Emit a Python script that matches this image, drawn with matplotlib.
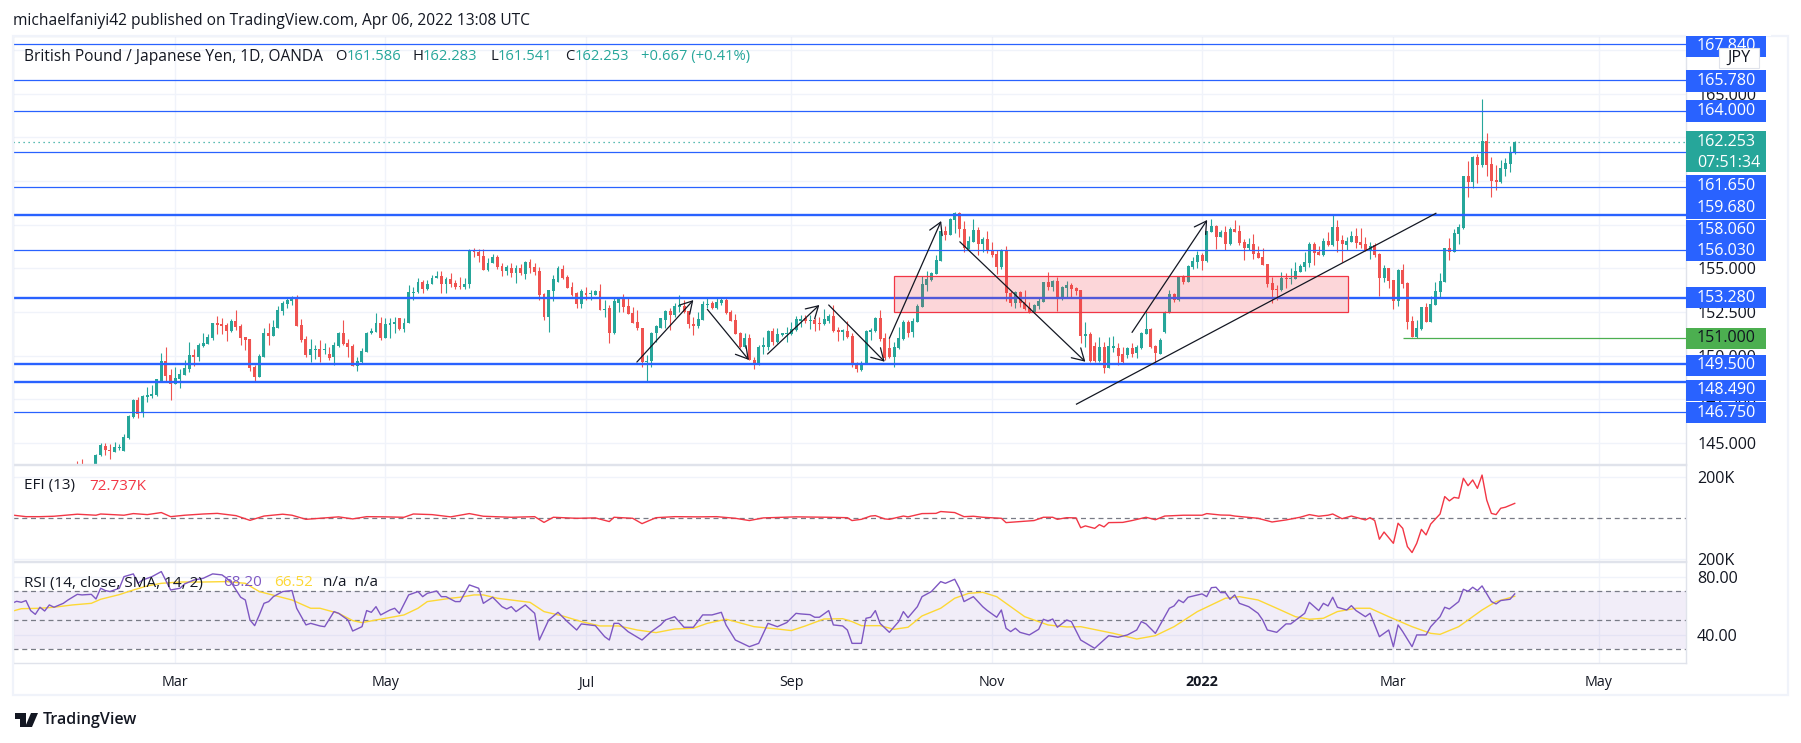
import numpy as np
import matplotlib
matplotlib.use("Agg")
import matplotlib.pyplot as plt
from matplotlib.patches import Rectangle, Polygon

W, H = 1801, 743
UP = "#26a69a"
DOWN = "#ef5350"
BLUE = "#2962ff"
TEXT = "#131722"
GRID = "#f0f3fa"
EDGE = "#e0e3eb"
AXIS_SIZE = 11.6

plt.rcParams["font.family"] = ["Open Sans", "DejaVu Sans"]

# daily candles of GBP/JPY
opens = [
    143.6, 143.7, 143.2, 143.3, 143.78, 144.3, 144.81, 144.58, 144.49, 144.68, 144.55, 145.29,
    146.49, 147.45, 146.72, 147.62, 147.66, 147.74, 148.52, 149.69, 148.88, 148.39,
    148.65, 148.88, 149.23, 150.03, 149.92, 150.55, 150.66, 151.0, 151.86, 151.81,
    151.75, 151.41, 151.98, 151.69, 151.06, 150.95, 149.34, 148.77, 149.92, 151.29,
    151.12, 151.58, 152.55, 152.95, 153.12, 153.3, 151.75, 150.95, 150.03, 150.32,
    150.37, 150.31, 150.09, 149.9, 150.56, 151.31, 150.75, 150.56, 149.42, 149.65,
    150.22, 151.27, 151.37, 151.88, 151.02, 151.75, 151.79, 152.13, 151.52, 151.84,
    153.56, 153.62, 154.19, 153.79, 154.08, 154.42, 154.57, 154.13, 154.38, 154.17,
    153.98, 153.94, 154.13, 156.01, 155.95, 155.72, 154.9, 155.28, 155.66, 155.15,
    154.86, 155.03, 154.71, 155.03, 154.67, 155.36, 155.09, 154.84, 153.52, 152.23,
    153.71, 154.23, 154.96, 154.48, 153.91, 153.6, 152.95, 153.6, 153.52, 153.47,
    153.71, 152.61, 152.7, 151.27, 153.03, 153.31, 152.84, 152.45, 151.94, 151.59,
    149.65, 149.69, 151.27, 151.56, 152.03, 152.55, 152.32, 152.8, 152.84, 152.55,
    151.81, 151.69,
    152.03, 152.91, 152.99, 152.7, 152.99, 153.18, 152.47,
    152.04, 151.31, 150.51, 150.99, 149.75, 149.56, 150.51, 150.51, 151.41, 150.76,
    151.18, 151.24, 151.22, 151.47, 151.98, 152.14, 152.0, 152.04, 151.85, 151.81,
    152.0, 152.27, 151.47, 151.37, 151.41, 151.14, 149.46, 149.17, 149.56, 151.37,
    151.41, 152.17, 150.99, 150.42, 149.9, 150.45, 150.95, 151.91, 151.33,
    151.94, 152.8, 154.04, 154.33, 154.67, 155.43, 157.13, 156.91, 157.76, 158.15,
    157.23, 156.1, 156.5, 157.19, 156.39, 156.68, 156.05, 155.82, 155.05, 156.05,
    153.56, 152.99, 153.62, 153.05, 152.7, 152.46, 152.84, 153.09, 154.2, 153.95,
    154.27, 153.22, 153.85, 154.04, 153.85,
    153.76, 151.14, 151.22, 150.55, 149.71, 150.51, 149.27, 150.42, 150.42, 150.09,
    150.03, 150.42, 150.13, 150.42, 151.22, 151.5, 150.55, 150.09, 151.37, 152.42,
    153.53, 153.18, 154.52, 154.2, 155.09, 155.38, 155.76, 155.42, 157.1, 157.42,
    156.81, 157.06, 156.39, 157.25, 157.14, 156.49, 156.16, 156.39, 155.86, 155.63,
    155.25, 154.14, 153.8, 153.76, 154.43, 154.37, 154.39, 154.81, 155.06, 155.32,
    156.39, 155.92, 155.74, 156.57, 156.32,
    157.35, 156.62, 156.32, 156.53, 156.85, 156.51, 156.38, 156.01, 156.36, 155.82,
    154.47, 155.02, 154.33, 153.15, 154.91, 154.14, 151.98, 151.08, 151.52, 152.77,
    151.94, 152.9, 153.66, 154.24, 156.15, 155.92, 156.97, 157.29, 160.29, 159.95,
    161.38, 160.92, 162.3, 160.98, 160.06, 159.95, 160.69, 160.98, 161.586,
]
highs = [
    143.99, 144.1, 143.7, 143.75, 144.35, 144.97, 145.0, 144.91, 145.06, 144.93, 145.5, 146.59,
    147.5, 147.6, 147.75, 148.2, 148.31, 148.65, 150.14, 150.49, 149.21, 149.34,
    149.21, 149.74, 150.77, 150.37, 150.72, 151.29, 151.23, 151.86, 152.26, 152.15,
    151.86, 152.09, 152.61, 151.81, 151.06, 150.95, 149.46, 150.09, 151.58, 151.86,
    152.04, 152.84, 153.12, 153.35, 153.41, 153.47, 152.09, 151.12, 150.95, 150.6,
    150.89, 150.7, 150.51, 150.79, 151.35, 152.03, 150.93, 150.64, 149.93, 150.41,
    151.33, 151.56, 152.42, 152.23, 152.13, 152.13, 152.23, 152.13, 152.13, 154.04,
    153.94, 154.42, 154.33, 154.33, 154.61, 154.84, 154.84, 154.52, 154.71, 154.33,
    154.52, 154.42, 156.08, 156.14, 156.08, 156.08, 155.57, 155.82, 155.76, 155.28,
    155.19, 155.28, 155.19, 155.22, 155.42, 155.51, 155.28, 155.09, 153.56, 153.75,
    154.61, 155.15, 155.17, 154.61, 154.23, 153.66, 153.79, 153.94, 153.75, 153.75,
    154.08, 153.18, 152.89, 153.31, 153.37, 153.52, 153.37, 152.8, 152.61, 151.59,
    150.03, 151.37, 151.75, 152.17, 152.61, 152.7, 152.99, 153.47, 153.18, 152.55,
    152.23, 152.51,
    153.14, 153.28, 153.14, 153.33, 153.33, 153.28, 152.61,
    152.38, 151.35, 151.31, 151.22, 149.9, 150.61, 151.08, 151.47, 151.56, 151.56,
    151.31, 151.66, 151.94, 152.27, 152.33, 152.33, 152.31, 152.14, 152.23, 152.67,
    152.38, 152.9, 151.66, 151.52, 151.98, 151.27, 149.65, 149.71, 151.47, 151.56,
    152.23, 152.61, 151.27, 150.99, 150.8, 151.66, 152.04, 152.04, 152.14,
    152.93, 154.56, 154.84, 154.8, 155.76, 157.13, 157.42, 157.9, 158.22, 158.22,
    157.71, 156.85, 157.8, 157.34, 156.77, 157.13, 156.5, 156.05, 156.1, 156.28,
    153.72, 153.68, 153.68, 153.75, 153.05, 152.95, 153.37, 154.23, 154.77, 154.33,
    154.52, 153.98, 154.27, 154.17, 153.95,
    153.76, 151.91, 151.37, 150.8, 151.08, 150.8, 151.08, 151.14, 150.7, 150.47,
    150.51, 150.74, 150.61, 151.37, 152.61, 151.56, 150.61, 150.99, 152.57, 153.76,
    153.57, 154.52, 154.62, 155.19, 155.67, 156.0, 155.9, 157.14, 157.83, 157.48,
    157.2, 157.44, 157.37, 157.77, 157.48, 156.66, 156.74, 156.97, 156.28, 156.14,
    155.25, 154.52, 154.04, 154.77, 154.71, 155.0, 155.34, 155.25, 155.92, 156.49,
    156.49, 156.28, 156.74, 157.1, 158.09,
    157.77, 156.91, 156.81, 157.16, 157.29, 157.29, 156.81, 156.53, 156.43, 155.86,
    155.19, 155.02, 154.33, 154.94, 155.25, 154.24, 152.27, 152.04, 152.8, 153.0,
    153.42, 154.22, 154.75, 156.15, 156.72, 157.24, 157.54, 160.29, 161.15, 161.44,
    161.55, 164.68, 162.76, 161.38, 160.92, 161.21, 161.32, 162.01, 162.283,
]
lows = [
    143.3, 143.4, 143.1, 143.2, 143.7, 144.25, 144.3, 144.07, 144.49, 144.58, 144.55, 145.25,
    146.4, 146.43, 146.5, 147.34, 147.58, 147.68, 148.5, 148.46, 147.45, 148.39,
    148.14, 148.88, 149.06, 149.4, 149.69, 150.51, 150.66, 150.89, 151.23, 151.23,
    150.83, 151.35, 151.46, 150.6, 150.32, 149.11, 148.54, 148.77, 149.92, 150.6,
    151.12, 151.58, 152.32, 152.72, 152.9, 151.69, 150.77, 149.92, 149.63, 149.8,
    149.65, 150.12, 149.74, 149.46, 150.51, 150.6, 149.93, 149.42, 149.13, 149.55,
    150.22, 151.21, 151.37, 150.89, 151.02, 151.02, 151.27, 151.46, 151.33, 151.84,
    153.18, 153.56, 153.6, 153.75, 154.08, 154.42, 153.6, 153.6, 153.94, 153.81,
    153.81, 153.81, 153.85, 155.66, 155.38, 154.9, 154.84, 155.28, 154.99, 154.56,
    154.61, 154.52, 154.17, 154.61, 154.36, 154.71, 154.61, 153.18, 152.03, 151.37,
    153.12, 154.19, 154.36, 153.85, 153.43, 152.7, 152.7, 153.18, 153.18, 153.47,
    152.61, 152.23, 150.74, 151.23, 152.47, 152.51, 152.38, 151.84, 151.46, 149.36,
    148.5, 149.36, 150.79, 151.56, 151.56, 151.46, 152.23, 152.51, 152.45, 151.56,
    151.17, 151.56,
    152.03, 152.7, 152.67, 152.65, 152.9, 152.36, 151.98,
    151.24, 150.42, 150.42, 149.75, 149.23, 149.46, 150.09, 150.32, 150.61, 150.7,
    151.12, 150.8, 151.18, 151.41, 151.66, 151.89, 151.5, 151.43, 151.47, 151.75,
    151.89, 151.33, 150.86, 150.89, 150.99, 149.37, 149.08, 149.14, 149.52, 150.89,
    151.37, 150.85, 149.75, 149.84, 149.37, 150.4, 150.89, 151.05, 151.08,
    151.94, 152.8, 153.72, 154.27, 154.67, 155.43, 156.62, 156.91, 157.0, 156.81,
    155.95, 156.1, 156.5, 155.76, 155.95, 155.85, 155.63, 154.67, 154.99, 153.14,
    152.84, 152.7, 152.76, 152.61, 152.42, 152.42, 152.65, 153.09, 153.75, 153.72,
    152.57, 153.18, 153.33, 153.37, 153.47,
    150.7, 150.51, 149.65, 149.65, 149.65, 149.02, 149.27, 150.22, 149.46, 149.56,
    149.84, 149.9, 149.84, 150.38, 151.22, 150.42, 149.59, 150.09, 151.31, 152.42,
    153.09, 153.15, 154.08, 154.2, 154.96, 155.0, 154.9, 155.38, 157.1, 156.11,
    156.81, 156.05, 156.34, 157.1, 156.34, 155.48, 156.05, 155.53, 155.59, 155.21,
    153.95, 152.99, 153.18, 153.72, 153.85, 154.1, 154.39, 154.81, 154.87, 155.09,
    155.19, 155.74, 155.7, 156.28, 156.28,
    155.92, 155.38, 156.05, 156.53, 156.15, 156.15, 156.01, 155.54, 155.67, 153.43,
    154.24, 153.89, 152.69, 152.86, 153.89, 151.52, 151.08, 151.0, 151.47, 151.94,
    151.94, 152.9, 153.28, 154.24, 155.48, 155.92, 156.39, 157.25, 159.11, 159.62,
    159.91, 160.83, 160.29, 159.11, 159.49, 159.89, 160.29, 160.52, 161.541,
]
closes = [
    143.4, 143.5, 143.6, 143.7, 144.3, 144.85, 144.58, 144.53, 144.74, 144.74, 145.35, 146.55,
    147.45, 146.68, 147.68, 147.74, 147.8, 148.64, 149.69, 148.83, 148.39, 148.71,
    148.92, 149.29, 150.03, 149.92, 150.6, 150.72, 151.06, 151.86, 151.75, 151.69,
    151.41, 151.98, 151.63, 151.0, 150.89, 149.29, 148.77, 149.97, 151.29, 151.12,
    151.63, 152.61, 153.01, 153.18, 153.3, 151.69, 150.89, 150.03, 150.37, 150.37,
    149.93, 150.37, 149.84, 150.6, 151.31, 150.64, 150.51, 149.42, 149.7, 150.26,
    151.27, 151.4, 151.88, 150.98, 151.79, 151.88, 151.92, 151.52, 151.84, 153.62,
    153.62, 154.19, 153.79, 154.13, 154.42, 154.57, 154.13, 154.38, 154.13, 153.94,
    153.94, 154.13, 156.01, 155.95, 155.7, 154.9, 155.28, 155.66, 155.05, 154.86,
    155.05, 154.71, 155.03, 154.71, 155.36, 155.03, 154.8, 153.47, 152.23, 153.75,
    154.38, 155.03, 154.42, 153.85, 153.5, 152.95, 153.71, 153.47, 153.6, 153.71,
    152.61, 152.65, 151.27, 153.12, 153.31, 152.8, 152.38, 151.84, 151.56, 149.65,
    149.7, 151.31, 151.69, 152.13, 152.55, 152.32, 152.84, 152.89, 152.51, 151.79,
    151.69, 152.07,
    152.95, 152.95, 152.7, 153.07, 153.18, 152.42, 151.98,
    151.24, 150.51, 150.99, 149.75, 149.46, 150.51, 150.61, 151.41, 150.76, 151.22,
    151.27, 151.31, 151.5, 152.1, 152.08, 152.0, 152.04, 151.81, 151.81, 152.1,
    152.27, 151.41, 151.37, 151.47, 151.08, 149.46, 149.21, 149.56, 151.41, 151.47,
    152.17, 150.93, 149.84, 149.9, 150.47, 150.99, 151.94, 151.27, 152.0,
    152.86, 154.1, 154.38, 154.73, 155.47, 157.13, 156.91, 157.8, 158.19, 157.23,
    156.14, 156.56, 157.19, 156.39, 156.68, 156.05, 155.76, 155.09, 156.05, 153.56,
    152.99, 153.62, 152.99, 152.67, 152.46, 152.9, 153.12, 154.2, 153.91, 154.27,
    153.28, 153.91, 154.04, 153.79, 153.72,
    151.14, 151.24, 149.71, 149.71, 150.51, 149.27, 150.55, 150.55, 150.0, 149.65,
    150.42, 150.07, 150.51, 151.31, 151.5, 150.51, 150.13, 150.89, 152.42, 153.53,
    153.18, 154.52, 154.23, 155.15, 155.42, 155.76, 155.42, 157.14, 157.42, 156.81,
    157.06, 156.39, 157.25, 157.1, 156.47, 156.18, 156.41, 155.82, 155.59, 155.21,
    154.1, 153.76, 153.76, 154.43, 154.37, 154.43, 154.83, 155.13, 155.36, 156.39,
    155.9, 155.74, 156.57, 156.32, 157.37,
    156.57, 156.38, 156.57, 156.85, 156.47, 156.32, 156.01, 156.3, 155.76, 154.47,
    155.02, 154.29, 153.15, 154.91, 154.1, 151.94, 151.08, 151.56, 152.77, 151.94,
    152.96, 153.7, 154.27, 156.15, 155.96, 157.0, 157.37, 160.29, 159.95, 161.38,
    160.92, 162.3, 160.92, 160.0, 159.95, 160.75, 161.04, 161.65, 162.253,
]

# horizontal levels drawn on the chart
thin_levels = [167.84, 165.78, 164.0, 161.65, 159.68, 156.03, 146.75]
thick_levels = [158.06, 153.28, 149.5, 148.49]
green_level = 151.0
last_price = 162.253
price_ticks = [145.0, 147.5, 150.0, 152.5, 155.0, 157.5, 160.0, 162.5, 165.0, 167.5]
hidden_ticks = [157.5, 160.0, 162.5, 167.5]

# price tags on the axis: text and the height they ended up at after de-overlapping
tag_texts = ["167.840", "165.780", "164.000", "161.650", "159.680", "158.060",
             "156.030", "153.280", "149.500", "148.490", "146.750"]
tag_rows = [46, 81, 111, 186, 208, 230, 251, 297.5, 365, 390, 413]

# arrows and trend line in bars / price
arrows = [
    (119.9, 149.63, 132.0, 153.18),
    (135.0, 152.65, 143.9, 149.75),
    (147.9, 150.09, 159.0, 152.9),
    (161.0, 152.9, 173.0, 149.65),
    (174.0, 150.99, 185.1, 157.71),
    (189.1, 156.52, 216.0, 149.65),
    (226.0, 151.33, 242.1, 157.77),
]
trend_bars = [214.1, 291.1]
trend_prices = [147.22, 158.15]
zone_bars = [175.1, 272.2]
zone_prices = [152.48, 154.54]
green_start = 284.1

month_bars = [21, 66, 109, 153, 196, 241, 282, 326]
month_names = ["Mar", "May", "Jul", "Sep", "Nov", "2022", "Mar", "May"]

efi_bars = [
    -14, -11, -8, -5, 0, 4, 5, 10, 12, 15, 18, 20, 23, 27, 30, 34, 37, 40, 44, 46,
    49, 52, 56, 59, 62, 66, 70, 72, 76, 80, 84, 87, 93, 98, 100, 102, 107, 111, 114, 115,
    119, 121, 124, 128, 133, 137, 141, 144, 147, 154, 161, 165, 166, 168, 170, 171, 173, 174, 177, 178,
    181, 184, 185, 188, 190, 192, 194, 198, 199, 202, 205, 207, 209, 210, 212, 214, 215, 216, 218, 219,
    220, 221, 224, 226, 229, 231, 233, 237, 241, 242, 245, 247, 248, 253, 256, 259, 262, 264, 266, 268,
    269, 271, 273, 276, 277, 278, 279, 280, 282, 283, 284, 285, 286, 287, 288, 289, 290, 292, 293, 294,
    295, 296, 297, 298, 299, 300, 301, 302, 303, 304, 305, 306, 308,
]
efi_values = [
    16, 8, 8, 10, 20, 15, 21, 15, 23, 18, 28, 8, 15, 21, 24, 13, -10, 11, 20, 15,
    -5, 0, 7, -3, 8, 7, 5, 21, 18, 7, 23, 10, 5, 8, -20, 5, 0, 2, -16, 5,
    0, -26, 3, 8, 7, 8, 0, -11, 2, 7, 5, 3, -11, -5, 11, 13, -3, -5, 11, 7,
    23, 24, 33, 28, 8, 10, 5, 0, -21, -16, -11, 5, 5, -5, 3, 2, -46, -37, -49, -31,
    -42, -21, -20, -11, 5, -7, 11, 15, 15, 23, 16, 15, 11, 0, -18, -8, 5, 18, 10, 15,
    21, -2, 11, -8, 3, -11, -102, -67, -122, -24, -49, -138, -167, -122, -54, -81, -28, 21, 106, 85,
    102, 98, 195, 159, 187, 146, 211, 89, 24, 18, 49, 54, 72.737,
]

rsi_bars = [
    -14, -13, -12, -11, -10, -9, -8, -7, -6, -5, -3, -2, 0, 1, 3, 4, 5, 6, 7, 9,
    10, 12, 13, 14, 16, 18, 20, 22, 23, 25, 27, 29, 31, 32, 33, 35, 36, 37, 38, 39,
    40, 41, 42, 44, 46, 47, 48, 49, 50, 52, 53, 55, 56, 58, 59, 61, 62, 63, 64, 65,
    67, 68, 69, 71, 73, 74, 75, 77, 78, 79, 81, 82, 84, 86, 87, 89, 91, 92, 93, 94,
    96, 98, 99, 101, 103, 105, 107, 108, 111, 113, 114, 115, 116, 118, 121, 123, 125, 126, 128, 130,
    132, 134, 136, 138, 139, 141, 144, 146, 148, 150, 152, 154,
    155, 157, 158, 159, 161, 162, 164, 165, 166, 168, 169, 170, 171, 172, 174, 176, 177, 178, 180, 181,
    183, 185, 186, 188, 189, 190, 192, 194, 195, 197, 198, 199, 200, 201, 202, 204, 206, 207, 208, 209,
    210, 212, 213, 215, 218, 221, 223, 225, 227, 228, 229, 231, 233, 234, 235, 236, 237, 238, 241, 242,
    243, 244, 245, 246, 247, 248, 249, 251, 253, 254, 255, 257, 259, 260, 263, 264, 266, 267, 268, 269,
    270, 272, 273, 274, 276, 277, 279, 281, 282, 283, 284, 286, 287, 289, 290, 292, 293, 294, 296, 297,
    298, 299, 300, 301, 303, 304, 305, 307, 308,
]
rsi_values = [
    61.7, 63.1, 62.4, 63.6, 56.7, 54.1, 59, 56.4, 60.6, 59, 61.7, 64, 67.9, 67.5, 67.9, 64.7, 72.1, 70.5, 69.8, 72.1,
    80.1, 82, 75.5, 77.8, 80.1, 83.6, 70.9, 72.1, 75.1, 77.8, 79, 82, 81.3, 79, 76, 65.9, 64, 50.2, 46.3, 53.7,
    61.7, 62.9, 66.3, 69.8, 70.5, 58.3, 52.5, 46.8, 47.9, 46.1, 45.6, 56, 54.8, 50.2, 42.6, 45.6, 56.7, 55.5, 59.4, 53.7,
    57.1, 58.3, 54.8, 67.5, 69.8, 66.3, 68.6, 70.2, 66.3, 66.3, 62.9, 62.9, 74.4, 72.1, 61.7, 65.9, 59.4, 57.8, 59.4, 56,
    60.6, 54.8, 36.4, 50.2, 55.5, 49.1, 43.3, 47.5, 46.3, 38.7, 36.4, 47.9, 47.9, 42.2, 36.4, 42.2, 46.8, 50.2, 52.5, 45.2,
    45.2, 53.7, 53.7, 55.5, 46.8, 36.4, 31.8, 34.1, 47.9, 45.6, 48.4, 54.8,
    54.4, 53.9, 52.1, 52.1, 56.7, 46.8, 46.1, 43.3, 34.1, 34.1, 51.4, 52.1, 56.7, 47.9, 41.7, 49.1, 56, 51.8, 59.4, 66.3,
    69.8, 76.7, 75.5, 78.3, 72.1, 62.9, 66.3, 59.4, 56.7, 52.1, 57.1, 44.5, 42.2, 44.5, 41.7, 39.9, 43.8, 50.7, 49.5, 50.9,
    45.2, 50.2, 49.1, 36.4, 30.7, 39.4, 38.3, 39.9, 43.3, 49.1, 47.5, 41, 52.5, 58.3, 59.9, 64, 62.2, 65.9, 68.2, 66.3,
    72.5, 72.8, 69.1, 69.1, 64.5, 67.5, 61.7, 59.4, 54.8, 50.2, 43.3, 41.7, 47.5, 47.5, 54.8, 62.4, 56.7, 61.7, 59.9, 65.9,
    59, 57.1, 60.1, 56.7, 52.5, 54.8, 38.7, 43.3, 31.8, 46.8, 42.2, 31.8, 39.9, 39.9, 45.6, 52.5, 59, 57.8, 62.9, 71.4,
    70, 72.8, 70.5, 73.7, 62.9, 61.3, 63.6, 64.5, 68.2,
]
rsi_ma_bars = [
    -14, -12, -8, -5, -1, 3, 5, 9, 12, 15, 18, 22, 27, 32, 36, 39, 46, 50, 52, 56,
    59, 61, 64, 68, 70, 73, 75, 80, 82, 85, 87, 90, 93, 97, 100, 104, 108, 112, 116, 120,
    124, 128, 132, 135, 139, 141, 145, 150, 153, 156, 160, 164, 166, 168, 172, 175, 178, 181, 185, 188,
    191, 194, 197, 200, 203, 208, 212, 215, 222, 227, 231, 235, 240, 246, 249, 253, 257, 261, 264, 267,
    270, 274, 277, 281, 286, 290, 292, 296, 301, 304, 308,
]
rsi_ma_values = [
    56.2, 58, 58.3, 59, 60.6, 61.7, 64.5, 67.7, 70.9, 73.7, 75.5, 76.4, 76.4, 76.7, 75.5, 69.8, 64, 58.3, 58.3, 54.8,
    49.8, 48.4, 50.2, 52.5, 53.7, 58.3, 62.9, 65.2, 65.9, 67.5, 67.5, 65.2, 64, 62.4, 56, 53, 49.1, 46.1, 46.1, 43.3,
    41.5, 44, 44.5, 47.9, 50.7, 49.1, 45.6, 44, 42.9, 46.1, 50.9, 51.1, 49.1, 46.3, 46.3, 43.8, 45.2, 53, 58.3, 65.2,
    68.6, 69.3, 66.3, 59.4, 52.5, 46.8, 45.4, 45.6, 41, 37.1, 39.4, 45.6, 56, 65.2, 66.3, 64, 58.3, 52.5, 50.7, 51.4,
    56, 58.3, 58.3, 52.5, 45.6, 41, 40.3, 45.6, 57.1, 62.9, 66.52,
]


def fx(px):
    return px / W


def fy(py):
    return 1 - py / H


def add_pane(top, bottom):
    ax = fig.add_axes([fx(13), fy(bottom), (1686 - 13) / W, (bottom - top) / H])
    ax.set_xlim(-13.78, 344.7)
    ax.set_xticks(month_bars)
    ax.grid(True, color=GRID, lw=1.0)
    ax.set_axisbelow(True)
    ax.yaxis.tick_right()
    ax.tick_params(length=0, labelsize=AXIS_SIZE, labelcolor=TEXT, pad=8)
    ax.tick_params(axis="x", labelbottom=False)
    for side in ax.spines:
        ax.spines[side].set_color(EDGE)
        ax.spines[side].set_linewidth(1.0)
    return ax


fig = plt.figure(figsize=(W / 100, H / 100), dpi=100, facecolor="white")

# outer frame of the chart widget
fig.add_artist(Rectangle((fx(12.5), fy(695)), (1788 - 12.5) / W, (695 - 36) / H, transform=fig.transFigure,
                         fill=False, ec=GRID, lw=1.6))

main = add_pane(36, 464)
efi = add_pane(465, 561)
rsi = add_pane(562, 663)

main.set_ylim(143.79, 168.31)
main.set_yticks(price_ticks)
main.set_yticklabels(["" if p in hidden_ticks else f"{p:.3f}" for p in price_ticks])

bars = np.arange(len(closes))
opens = np.array(opens)
closes = np.array(closes)
rising = closes >= opens
colors = np.where(rising, UP, DOWN)
main.vlines(bars, lows, highs, colors=colors, lw=0.8, zorder=2)
body_low = np.minimum(opens, closes)
body_h = np.maximum(np.abs(closes - opens), 0.06)
main.bar(bars, body_h, bottom=body_low, width=0.64, color=colors, lw=0, zorder=2)

main.axhline(last_price, color=UP, lw=0.9, ls=(0, (1, 3)), zorder=3)
for lv in thin_levels:
    main.axhline(lv, color=BLUE, lw=0.9, zorder=3)
for lv in thick_levels:
    main.axhline(lv, color=BLUE, lw=1.7, zorder=3)
main.hlines(green_level, green_start, 344.7, color="#4caf50", lw=0.9, zorder=3)

main.add_patch(Rectangle((zone_bars[0], zone_prices[0]), zone_bars[1] - zone_bars[0], zone_prices[1] - zone_prices[0],
                         fc=(0.949, 0.212, 0.271, 0.2), ec="#f23645", lw=0.9, zorder=4))
main.plot(trend_bars, trend_prices, color="#131722", lw=0.9, zorder=5)
for x0, y0, x1, y1 in arrows:
    main.annotate("", xy=(x1, y1), xytext=(x0, y0), zorder=5,
                  arrowprops=dict(arrowstyle="->,head_length=0.6,head_width=0.35", color="#131722", lw=0.9,
                                  shrinkA=0, shrinkB=0, mutation_scale=14))

efi.set_ylim(-208.3, 260)
efi.set_yticks([-200, 200])
efi.set_yticklabels(["200K", "200K"])
efi.axhline(0, color="#787b86", lw=0.9, ls=(0, (4, 3)), zorder=2)
efi.plot(efi_bars, efi_values, color="#f23645", lw=1.0, zorder=3)

rsi.set_ylim(20.55, 90.2)
rsi.set_yticks([40, 80])
rsi.set_yticklabels(["40.00", "80.00"])
rsi.axhspan(30, 70, color="#7e57c2", alpha=0.1, lw=0, zorder=1)
for lv in [30, 50, 70]:
    rsi.axhline(lv, color="#787b86", lw=0.9, ls=(0, (4, 3)), zorder=2)
rsi.plot(rsi_ma_bars, rsi_ma_values, color="#fdd835", lw=1.0, zorder=3)
rsi.plot(rsi_bars, rsi_values, color="#7e57c2", lw=1.0, zorder=4)
rsi.tick_params(axis="x", labelbottom=True, labelsize=10.3, pad=9)
rsi.set_xticklabels(month_names)
rsi.get_xticklabels()[5].set_fontweight("bold")


def label(px, py, s, color=TEXT, size=11.0, weight="normal", ha="left"):
    fig.text(fx(px), fy(py), s, color=color, fontsize=size, fontweight=weight, ha=ha, va="center")


# header and legends
label(12.5, 20.7, "michaelfaniyi42 published on TradingView.com, Apr 06, 2022 13:08 UTC", size=11.2)
label(24, 56.7, "British Pound / Japanese Yen, 1D, OANDA", size=11.2)
for px, s in [(335, "O"), (412, "H"), (490, "L"), (565, "C")]:
    label(px, 56.7, s, size=10.6)
for px, s in [(347, "161.586"), (423, "162.283"), (498, "161.541"), (575, "162.253"), (641, "+0.667 (+0.41%)")]:
    label(px, 56.7, s, color=UP, size=10.6)
label(24, 486, "EFI (13)")
label(89, 486, "72.737K", color="#f23645")
label(24, 583, "RSI (14, close, SMA, 14, 2)")
label(223.5, 583, "68.20", color="#7e57c2")
label(274, 583, "66.52", color="#fdd835")
label(323, 583, "n/a  n/a")


def axis_tag(py, s, fc=BLUE, color="white", height=21):
    fig.add_artist(Rectangle((fx(1686), fy(py + height / 2)), 80 / W, height / H, transform=fig.transFigure,
                             fc=fc, ec="none", zorder=6))
    t = fig.text(fx(1697), fy(py), s, color=color, fontsize=AXIS_SIZE, ha="left", va="center", zorder=7)
    return t


for row, s in zip(tag_rows, tag_texts):
    axis_tag(row, s)
axis_tag(338.5, "151.000", fc="#4caf50", color=TEXT)
fig.add_artist(Rectangle((fx(1686), fy(172)), 80 / W, 41 / H, transform=fig.transFigure, fc=UP, ec="none", zorder=6))
fig.text(fx(1697), fy(142), "162.253", color="white", fontsize=AXIS_SIZE, va="center", zorder=7)
fig.text(fx(1697), fy(163), "07:51:34", color="white", fontsize=AXIS_SIZE, va="center", zorder=7)
# cover whatever of the top tag pokes above the pane
fig.add_artist(Rectangle((fx(1686), fy(35.5)), 85 / W, 14 / H, transform=fig.transFigure, fc="white", ec="none", zorder=8))
fig.add_artist(Rectangle((fx(1719), fy(68)), 40 / W, 20 / H, transform=fig.transFigure, fc="white", ec=EDGE, lw=0.8, zorder=8))
fig.text(fx(1739), fy(58), "JPY", color=TEXT, fontsize=AXIS_SIZE, ha="center", va="center", zorder=9)

# TradingView logo
tf = fig.transFigure
fig.add_artist(Polygon([(fx(15), fy(713)), (fx(26), fy(713)), (fx(26), fy(727)), (fx(20), fy(727)),
                        (fx(20), fy(719)), (fx(15), fy(719))], transform=tf, fc=TEXT, ec="none"))
fig.add_artist(Polygon([(fx(31), fy(713)), (fx(38), fy(713)), (fx(32), fy(727)), (fx(25), fy(727))],
                       transform=tf, fc=TEXT, ec="none"))
label(43, 720, "TradingView", size=11.5, weight="semibold")

fig.savefig("out.png", dpi=100, facecolor="white")
